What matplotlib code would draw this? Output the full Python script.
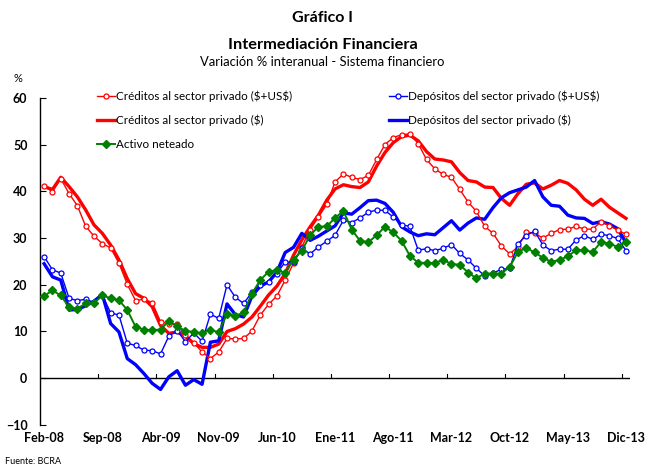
import matplotlib
matplotlib.use("Agg")
import matplotlib.pyplot as plt
import numpy as np

plt.rcParams['font.family'] = ['Lato', 'DejaVu Sans']

x_labels = ["Feb-08", "Sep-08", "Abr-09", "Nov-09", "Jun-10", "Ene-11", "Ago-11",
            "Mar-12", "Oct-12", "May-13", "Dic-13"]

creditos_total = [41.1, 39.9, 42.7, 39.5, 36.9, 32.5, 30.4, 28.8, 27.9, 24.6,
                  20.1, 16.6, 16.9, 16.2, 12.1, 11.6, 11.5, 9.2, 7.6, 5.6,
                  4.2, 5.6, 8.5, 8.4, 8.5, 10.1, 13.5, 15.8, 17.6, 21.0,
                  24.6, 28.1, 31.8, 34.5, 37.2, 42.0, 43.7, 43.0, 42.5, 43.4,
                  46.8, 50.0, 51.5, 52.1, 52.3, 50.2, 46.8, 44.8, 43.6, 43.0,
                  40.4, 37.7, 35.7, 32.5, 31.0, 28.3, 26.6, 28.1, 31.3, 31.0,
                  30.0, 31.0, 31.8, 31.9, 32.5, 31.9, 31.9, 33.5, 32.6, 31.7,
                  30.8]

creditos_pesos = [41.0, 40.4, 43.0, 41.0, 38.8, 36.0, 32.8, 31.0, 28.5, 25.3,
                  21.3, 18.1, 17.1, 15.3, 11.3, 9.6, 9.9, 9.0, 7.4, 6.6,
                  6.6, 7.3, 10.0, 10.6, 11.6, 13.1, 15.4, 17.8, 19.7, 22.4,
                  26.3, 29.6, 32.4, 34.9, 38.1, 40.5, 41.4, 41.0, 40.8, 42.0,
                  45.4, 48.3, 50.4, 51.7, 52.0, 50.8, 48.5, 46.9, 46.7, 46.3,
                  44.0, 42.3, 42.0, 40.9, 40.8, 38.5, 37.0, 39.5, 41.5, 41.8,
                  40.5, 41.3, 42.3, 41.7, 40.3, 38.3, 37.0, 38.3, 36.6, 35.4,
                  34.2]

depositos_total = [26.0, 23.2, 22.5, 17.1, 16.6, 16.9, 16.2, 17.8, 14.0, 13.5,
                   7.5, 7.0, 6.0, 5.9, 5.2, 9.0, 10.2, 7.8, 9.7, 7.9,
                   13.7, 12.8, 20.0, 17.3, 16.0, 18.4, 20.0, 20.6, 22.4, 24.9,
                   24.8, 27.8, 26.6, 28.1, 29.3, 30.6, 33.8, 33.3, 34.3, 35.5,
                   36.0, 35.9, 34.5, 32.8, 32.5, 27.4, 27.7, 27.3, 27.8, 28.6,
                   26.7, 25.3, 23.5, 21.9, 22.5, 23.3, 23.5, 28.8, 30.5, 31.5,
                   28.5, 27.3, 27.6, 27.6, 29.6, 30.5, 29.7, 30.8, 30.5, 29.9,
                   27.3]

depositos_pesos = [24.5, 21.7, 21.0, 14.6, 14.7, 15.5, 16.5, 17.9, 11.7, 9.9,
                   4.2, 2.9, 1.0, -1.1, -2.4, 0.3, 1.6, -1.5, -0.3, -1.3,
                   7.7, 8.0, 15.9, 13.6, 13.1, 17.6, 19.7, 20.6, 22.7, 26.9,
                   28.0, 31.0, 29.5, 30.4, 31.5, 32.6, 35.4, 35.1, 36.5, 38.0,
                   38.1, 37.4, 35.5, 32.4, 31.3, 30.5, 30.9, 30.7, 32.2, 33.7,
                   31.7, 33.2, 34.3, 34.0, 36.5, 38.6, 39.7, 40.3, 40.9, 42.3,
                   38.8, 37.0, 36.8, 34.9, 34.3, 34.2, 33.1, 33.5, 33.0, 32.0,
                   29.0]

activo_neteado = [17.6, 18.8, 17.7, 15.2, 14.9, 16.0, 16.1, 17.7, 17.1, 16.7,
                  14.6, 11.0, 10.4, 10.3, 10.4, 12.3, 11.1, 10.1, 9.9, 9.6,
                  10.4, 9.8, 13.8, 13.3, 14.1, 18.1, 21.0, 22.8, 23.1, 22.6,
                  25.4, 27.3, 30.6, 32.4, 32.5, 34.3, 35.8, 31.8, 29.4, 29.1,
                  30.6, 32.4, 31.2, 29.4, 26.2, 24.7, 24.7, 24.6, 25.4, 24.4,
                  24.3, 22.6, 21.4, 22.4, 22.4, 22.4, 23.8, 27.0, 27.9, 26.9,
                  25.8, 24.9, 25.3, 26.1, 27.4, 27.4, 27.0, 29.2, 28.8, 28.1,
                  29.2]

names = [r"Créditos al sector privado (\$+US\$)", r"Créditos al sector privado (\$)",
         "Activo neteado", r"Depósitos del sector privado (\$+US\$)",
         r"Depósitos del sector privado (\$)"]

RED = "#FF0000"
BLUE = "#0000FF"
GREEN = "#008000"

fig = plt.figure(figsize=(6.45, 4.68), dpi=100)
ax = fig.add_axes([0.062, 0.092, 0.915, 0.699])

n = len(creditos_total)
xs = np.arange(n)

l_rp, = ax.plot(xs, creditos_pesos, color=RED, lw=2.4, solid_joinstyle='round', zorder=3)
l_bp, = ax.plot(xs, depositos_pesos, color=BLUE, lw=2.4, solid_joinstyle='round', zorder=3)
l_rt, = ax.plot(xs, creditos_total, color=RED, lw=1.0, marker='o', ms=3.6,
                mfc='white', mec=RED, mew=0.9, zorder=4)
l_bt, = ax.plot(xs, depositos_total, color=BLUE, lw=1.0, marker='o', ms=3.6,
                mfc='white', mec=BLUE, mew=0.9, zorder=4)
l_g, = ax.plot(xs, activo_neteado, color=GREEN, lw=1.4, marker='D', ms=3.6,
               mfc=GREEN, mec=GREEN, zorder=5)

ax.set_xlim(-0.5, n - 0.5)
ax.set_ylim(-10, 60)

ax.axhline(0, color='black', lw=1.0, zorder=2)
for b in np.arange(6.5, n - 1, 7):
    ax.plot([b, b], [0, 0.9], color='black', lw=0.8, zorder=2)

for s in ['top', 'right', 'bottom']:
    ax.spines[s].set_visible(False)
ax.spines['left'].set_linewidth(1.0)

ax.set_yticks(np.arange(-10, 61, 10))
ax.tick_params(axis='y', direction='in', length=4, width=0.8, pad=9)
for t in ax.get_yticklabels():
    t.set_fontweight('bold')
    t.set_fontsize(9)

ax.set_xticks(np.arange(0, n, 7))
ax.set_xticklabels(x_labels, fontweight='bold', fontsize=9)
ax.tick_params(axis='x', length=0, pad=5)

leg = ax.legend([l_rt, l_rp, l_g, l_bt, l_bp], names, ncol=2, frameon=False,
                loc='upper left', bbox_to_anchor=(0.088, 1.036), fontsize=8.4,
                handlelength=1.55, handletextpad=0.1, columnspacing=8.3,
                labelspacing=1.08, borderaxespad=0)

fig.text(0.5, 1 - 18 / 468, "Gráfico I", ha='center', va='center',
         fontsize=11.5, fontweight='bold')
fig.text(0.5, 1 - 45 / 468, "Intermediación Financiera", ha='center', va='center',
         fontsize=11.8, fontweight='bold')
fig.text(0.5, 1 - 62 / 468, "Variación % interanual - Sistema financiero",
         ha='center', va='center', fontsize=9.4)
fig.text(18 / 645, 1 - 78 / 468, "%", ha='center', va='center', fontsize=8)
fig.text(5 / 645, 1 - 462 / 468, "Fuente: BCRA", ha='left', va='center', fontsize=6.5)

fig.savefig("out.png", dpi=100)
